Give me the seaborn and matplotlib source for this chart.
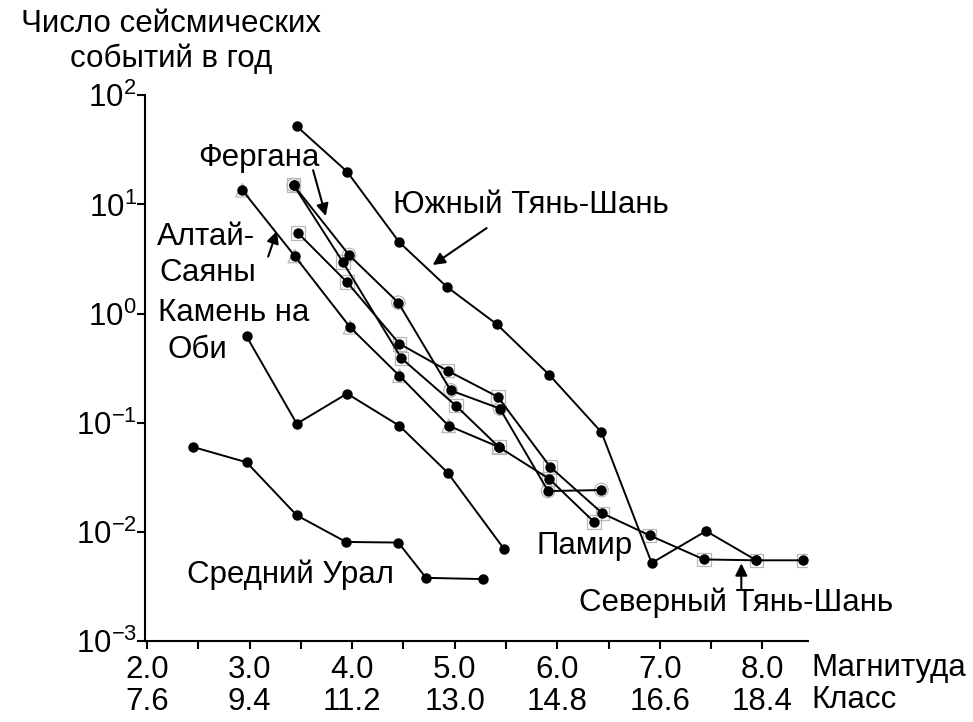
import matplotlib
matplotlib.use("Agg")
import matplotlib.pyplot as plt
from matplotlib.ticker import FixedLocator, NullLocator
import seaborn as sns

# Annual number of seismic events vs magnitude for several regions
south_ts_mag = [3.46, 3.95, 4.46, 4.92, 5.41, 5.92, 6.43, 6.92, 7.45, 7.94]
south_ts_n = [52.0, 20.0, 4.5, 1.77, 0.80, 0.276, 0.082, 0.0052, 0.0102, 0.0055]

north_ts_mag = [3.47, 3.95, 4.46, 4.93, 5.42, 5.93, 6.44, 6.90, 7.43, 7.94, 8.40]
north_ts_n = [5.5, 1.94, 0.53, 0.30, 0.173, 0.0395, 0.0148, 0.0093, 0.0056, 0.0055, 0.0055]

fergana_mag = [3.43, 3.97, 4.45, 4.96, 5.44, 5.91, 6.43]
fergana_n = [15.0, 3.44, 1.26, 0.198, 0.135, 0.0237, 0.0242]

pamir_mag = [3.43, 3.91, 4.48, 5.01, 5.43, 5.92, 6.36]
pamir_n = [15.0, 2.96, 0.39, 0.144, 0.060, 0.0307, 0.0123]

altai_mag = [2.93, 3.44, 3.98, 4.46, 4.94, 5.43]
altai_n = [13.5, 3.37, 0.75, 0.27, 0.094, 0.060]

kamen_mag = [2.97, 3.46, 3.95, 4.46, 4.93, 5.48]
kamen_n = [0.62, 0.098, 0.185, 0.094, 0.035, 0.0070]

ural_mag = [2.45, 2.97, 3.46, 3.94, 4.45, 4.72, 5.28]
ural_n = [0.060, 0.0435, 0.0142, 0.0081, 0.0080, 0.0038, 0.0037]

magnitude_ticks = [2.0, 3.0, 4.0, 5.0, 6.0, 7.0, 8.0]
class_labels = ["7.6", "9.4", "11.2", "13.0", "14.8", "16.6", "18.4"]
y_ticks = [1e-3, 1e-2, 1e-1, 1e0, 1e1, 1e2]
y_labels = [r"$10^{-3}$", r"$10^{-2}$", r"$10^{-1}$", r"$10^{0}$", r"$10^{1}$", r"$10^{2}$"]

sns.set_style("ticks")
plt.rcParams["font.family"] = ["Liberation Sans", "DejaVu Sans"]
plt.rcParams["mathtext.fontset"] = "custom"
plt.rcParams["mathtext.rm"] = "Liberation Sans"
plt.rcParams["mathtext.it"] = "Liberation Sans:italic"
plt.rcParams["mathtext.bf"] = "Liberation Sans:bold"
for key in ("text.color", "axes.edgecolor", "xtick.color", "ytick.color", "axes.labelcolor"):
    plt.rcParams[key] = "black"

FS = 22.5

fig = plt.figure(figsize=(9.73, 7.22), dpi=100)
ax = fig.add_axes([0.149, 0.112, 0.681, 0.756])
ax.set_yscale("log")

# faint open symbols under the black points
under = [
    (fergana_mag, fergana_n, "o"),
    (altai_mag, altai_n, "^"),
    (north_ts_mag, north_ts_n, "s"),
    (pamir_mag, pamir_n, "s"),
]
for mx, ny, mk in under:
    sns.scatterplot(x=mx, y=ny, marker=mk, s=95, facecolor="none",
                    edgecolor="#b8b8b8", linewidth=0.9, ax=ax, zorder=2)

series = [
    (south_ts_mag, south_ts_n),
    (north_ts_mag, north_ts_n),
    (fergana_mag, fergana_n),
    (pamir_mag, pamir_n),
    (altai_mag, altai_n),
    (kamen_mag, kamen_n),
    (ural_mag, ural_n),
]
for mx, ny in series:
    sns.lineplot(x=mx, y=ny, color="black", lw=1.4, marker="o", markersize=7.5,
                 markeredgewidth=0, estimator=None, sort=False, ax=ax, zorder=3)

ax.set_xlim(1.98, 8.44)
ax.set_ylim(1e-3, 1e2)

ax.xaxis.set_major_locator(FixedLocator(magnitude_ticks))
ax.xaxis.set_minor_locator(FixedLocator([2.5, 3.5, 4.5, 5.5, 6.5, 7.5]))
ax.set_xticklabels([f"{m:.1f}\n{c}" for m, c in zip(magnitude_ticks, class_labels)],
                   fontsize=FS, linespacing=1.1)
ax.yaxis.set_major_locator(FixedLocator(y_ticks))
ax.yaxis.set_minor_locator(NullLocator())
ax.set_yticklabels(y_labels, fontsize=FS)

ax.tick_params(axis="x", which="both", direction="out", length=6, width=1.5, pad=4)
ax.tick_params(axis="y", which="major", direction="out", length=6, width=1.5, pad=0)
for side in ("top", "right"):
    ax.spines[side].set_visible(False)
for side in ("left", "bottom"):
    ax.spines[side].set_linewidth(1.5)
ax.set_xlabel("")
ax.set_ylabel("")

# axis captions
ax.annotate("Магнитуда\nКласс", xy=(8.475, 0), xycoords=("data", "axes fraction"),
            xytext=(0, -8.5), textcoords="offset points", ha="left", va="top",
            fontsize=FS, linespacing=1.1, annotation_clip=False)
fig.text(0.176, 0.988, "Число сейсмических\nсобытий в год", ha="center", va="top",
         fontsize=FS, linespacing=1.22)

# region labels
ax.text(3.09, 26.5, "Фергана", ha="center", va="center", fontsize=FS)
ax.text(5.74, 9.9, "Южный Тянь-Шань", ha="center", va="center", fontsize=FS)
ax.text(2.097, 5.04, "Алтай-", ha="left", va="center", fontsize=FS)
ax.text(2.117, 2.36, "Саяны", ha="left", va="center", fontsize=FS)
ax.text(2.107, 1.02, "Камень на", ha="left", va="center", fontsize=FS)
ax.text(2.204, 0.467, "Оби", ha="left", va="center", fontsize=FS)
ax.text(2.389, 0.00409, "Средний Урал", ha="left", va="center", fontsize=FS)
ax.text(5.797, 0.00738, "Памир", ha="left", va="center", fontsize=FS)
ax.text(6.216, 0.00227, "Северный Тянь-Шань", ha="left", va="center", fontsize=FS)

arrow = dict(arrowstyle="-|>", color="black", lw=1.5, mutation_scale=18,
             shrinkA=0, shrinkB=0)
ax.annotate("", xy=(3.743, 7.83), xytext=(3.619, 20.6), arrowprops=arrow)
ax.annotate("", xy=(4.785, 2.79), xytext=(5.311, 6.08), arrowprops=arrow)
ax.annotate("", xy=(3.266, 5.71), xytext=(3.181, 3.33), arrowprops=arrow)
ax.annotate("", xy=(7.794, 0.00516), xytext=(7.794, 0.00299), arrowprops=arrow)

fig.savefig("out.png", dpi=100, facecolor="white")
